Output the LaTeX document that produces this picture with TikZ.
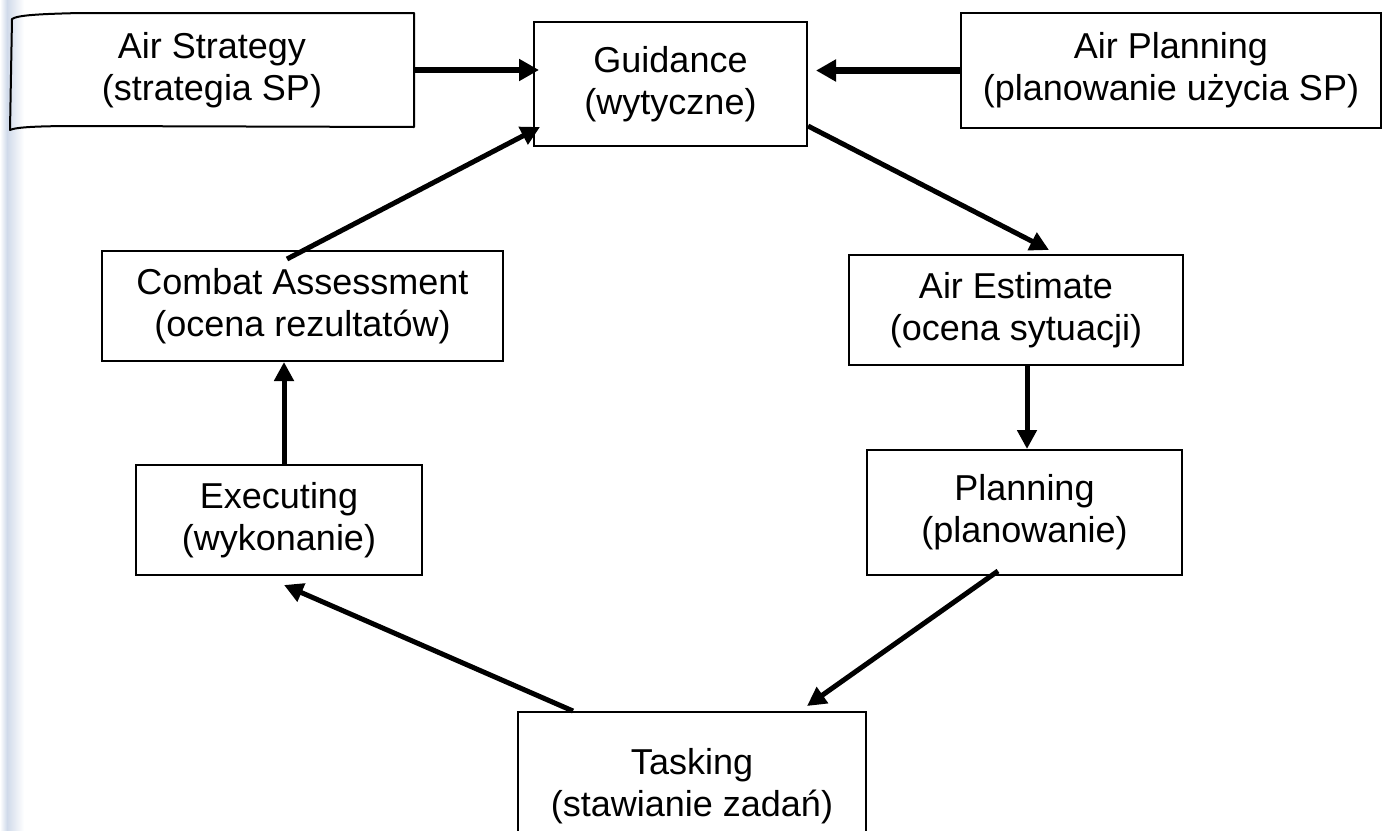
\documentclass[tikz,border=0pt]{standalone}
\usepackage{fontspec}
\setmainfont{Liberation Sans}
\usetikzlibrary{arrows.meta,calc}

\definecolor{bindstrip}{RGB}{208,218,234}

\tikzset{
  stage/.style={draw, line width=2pt, inner sep=0pt, align=center,
    font=\fontsize{36}{42}\selectfont},
  flow/.style={line width=5pt, -{Triangle[length=19pt,width=19pt]}},
  feed/.style={line width=6.5pt, -{Triangle[length=20pt,width=21pt]}}
}

\begin{document}
\begin{tikzpicture}[x=1pt,y=-1pt]
  \useasboundingbox (0,0) rectangle (1389,830);
  \clip (0,0) rectangle (1389,830);
  \fill[white] (0,0) rectangle (1389,830);
  % binding shadow along the left margin
  \shade[left color=white, right color=bindstrip] (0,0) rectangle (7,830);
  \shade[left color=bindstrip, right color=white] (7,0) rectangle (24,830);

  % top row
  \node[stage, draw=none, minimum width=402pt, minimum height=112pt] (strat) at (212,70)
    {Air Strategy\\(strategia SP)};
  % its outline bends slightly towards the binding on the left
  \draw[line width=2pt, line join=round]
    ($(strat.north west)+(2,6)$) .. controls ($(strat.north west)+(8,2)$) and ($(strat.north west)+(30,1)$) .. ($(strat.north west)+(70,0)$)
    -- (strat.north east) -- (strat.south east) -- ($(strat.south west)+(70,-1)$)
    .. controls ($(strat.south west)+(30,-1)$) and ($(strat.south west)+(6,0)$) .. ($(strat.south west)+(0,3)$)
    -- cycle;
  \node[stage, minimum width=273pt, minimum height=124pt] (guid) at (670.5,84)
    {Guidance\\(wytyczne)};
  \node[stage, minimum width=420pt, minimum height=115pt] (aplan) at (1171,70.5)
    {Air Planning\\(planowanie użycia SP)};

  % cycle
  \node[stage, minimum width=401pt, minimum height=110pt] (comb) at (302.5,306)
    {Combat Assessment\\(ocena rezultatów)};
  \node[stage, minimum width=334pt, minimum height=110pt] (est) at (1016,310)
    {Air Estimate\\(ocena sytuacji)};
  \node[stage, minimum width=286pt, minimum height=110pt] (exec) at (279,520)
    {Executing\\(wykonanie)};
  \node[stage, minimum width=315pt, minimum height=125pt] (plng) at (1024.5,512.5)
    {Planning\\(planowanie)};
  \node[stage, minimum width=348pt, minimum height=148pt] (task) at (692,786)
    {Tasking\\(stawianie zadań)};

  % inputs to guidance
  \draw[feed, shorten >=-6pt] (strat.east) -- (strat.east -| guid.west);
  \draw[feed, shorten >=8pt] (aplan.west) -- (aplan.west -| guid.east);

  % the cycle
  \draw[flow] ($(guid.south east)+(0,-21)$) -- ($(est.north west)+(201,-4)$);
  \draw[flow] ($(est.south)+(11,0)$) -- ($(plng.north)+(2.5,0)$);
  \draw[flow] ($(plng.south)+(-26.5,-5)$) -- ($(task.north east)+(-60,-5)$);
  \draw[flow] ($(task.north west)+(56,0)$) -- ($(exec.south)+(5,9)$);
  \draw[flow] ($(exec.north)+(5,0)$) -- ($(comb.south)+(-18.5,0)$);
  \draw[flow] ($(comb.north)+(-15.5,9)$) -- ($(guid.south west)+(7,-20)$);
\end{tikzpicture}
\end{document}
